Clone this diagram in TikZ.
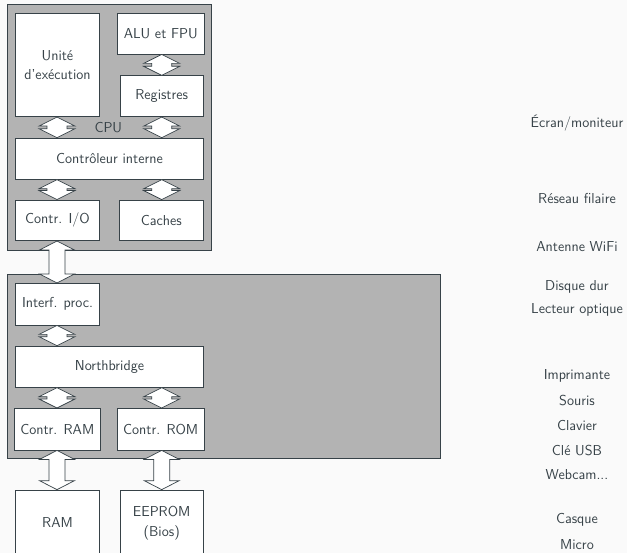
\documentclass[tikz,border=0pt]{standalone}
\usepackage{fontspec}
\usetikzlibrary{calc}
\definecolor{ink}{RGB}{55,66,72}
\definecolor{bg}{RGB}{250,250,250}
\definecolor{board}{RGB}{179,179,179}
\tikzset{
  every node/.style={font=\sffamily\fontsize{14.4}{19.5}\selectfont, text=ink},
  box/.style={draw=ink, fill=white, line width=0.7pt, inner sep=0pt, align=center},
  zone/.style={draw=ink, fill=board, line width=0.7pt, inner sep=0pt},
  arr/.style={draw=ink, fill=white, line width=0.7pt, line join=miter},
  periph/.style={inner sep=0pt, align=center},
}
% #1 top tip, #2 bottom tip, #3 head half width, #4 shaft half width
\newcommand\bidir[4]{%
  \path (#1) coordinate (t) (#2) coordinate (b);
  \draw[arr] (t) -- ($(t)+(#3,9)$) -- ($(t)+(#4,9)$) -- ($(b)+(#4,-9)$)
    -- ($(b)+(#3,-9)$) -- (b) -- ($(b)+(-#3,-9)$) -- ($(b)+(-#4,-9)$)
    -- ($(t)+(-#4,9)$) -- ($(t)+(-#3,9)$) -- cycle;}
\begin{document}
\begin{tikzpicture}[x=1pt,y=-1pt]
\useasboundingbox[fill=bg] (0,0) rectangle (627,553);
% CPU
\node[zone, minimum width=203.5pt, minimum height=246pt] (cpu) at (109.25,127) {};
\node[box, minimum width=83.6pt, minimum height=103.4pt] (exec) at (57.5,65) {Unité\\d’exécution};
\node[box, minimum width=86.7pt, minimum height=40.7pt] (alu) at (160.7,33.7) {ALU et FPU};
\node[box, minimum width=83.3pt, minimum height=41pt] (reg) at (161.7,96.2) {Registres};
\node[box, minimum width=187.6pt, minimum height=41.3pt] (ctrl) at (109.5,158.7) {Contrôleur interne};
\node[box, minimum width=83.6pt, minimum height=40.7pt] (io) at (57.5,220.3) {Contr. I/O};
\node[box, minimum width=84pt, minimum height=40.7pt] (cache) at (161.3,220.3) {Caches};
\node (cpulabel) at (108.3,127.7) {CPU};
% Motherboard
\node[zone, minimum width=433.2pt, minimum height=183.6pt] (mobo) at (223.9,366.5) {};
\node[box, minimum width=83.6pt, minimum height=41.7pt] (proc) at (57.5,304.2) {Interf. proc.};
\node[box, minimum width=187.6pt, minimum height=41.3pt] (nb) at (109.5,366.7) {Northbridge};
\node[box, minimum width=86.7pt, minimum height=41.7pt] (cram) at (57.3,429.2) {Contr. RAM};
\node[box, minimum width=86.7pt, minimum height=41.7pt] (crom) at (160.7,429.2) {Contr. ROM};
\node[box, minimum width=83.6pt, minimum height=66pt] (ram) at (57.5,523) {RAM};
\node[box, minimum width=83.3pt, minimum height=66pt] (eeprom) at (161.7,523) {EEPROM\\(Bios)};
% columns
\coordinate (L) at (57,0);
\coordinate (R) at (161.7,0);
% arrows
\bidir{R |- alu.south}{R |- reg.north}{18}{10}
\bidir{L |- exec.south}{L |- ctrl.north}{18}{10}
\bidir{R |- reg.south}{R |- ctrl.north}{18}{10}
\bidir{L |- ctrl.south}{L |- io.north}{18}{10}
\bidir{R |- ctrl.south}{R |- cache.north}{18}{10}
\bidir{L |- io.south}{L |- proc.north}{17.5}{8}
\bidir{L |- proc.south}{L |- nb.north}{18}{10}
\bidir{L |- nb.south}{L |- cram.north}{18}{10}
\bidir{R |- nb.south}{R |- crom.north}{18}{10}
\bidir{L |- cram.south}{L |- ram.north}{17.5}{8}
\bidir{R |- crom.south}{R |- eeprom.north}{17.5}{8}
% peripherals
\node[periph] (ecran) at (577,123) {Écran/moniteur};
\node[periph] (reseau) at (577,199) {Réseau filaire};
\node[periph] (wifi) at (577,247) {Antenne WiFi};
\node[periph] (hdd) at (577,287) {Disque dur};
\node[periph] (dvd) at (577,310) {Lecteur optique};
\node[periph] (print) at (577,376) {Imprimante};
\node[periph] (mouse) at (577,401) {Souris};
\node[periph] (kbd) at (577,426) {Clavier};
\node[periph] (usb) at (577,450.5) {Clé USB};
\node[periph] (cam) at (577,475) {Webcam...};
\node[periph] (casque) at (577,519.5) {Casque};
\node[periph] (micro) at (577,544.3) {Micro};
\end{tikzpicture}
\end{document}
